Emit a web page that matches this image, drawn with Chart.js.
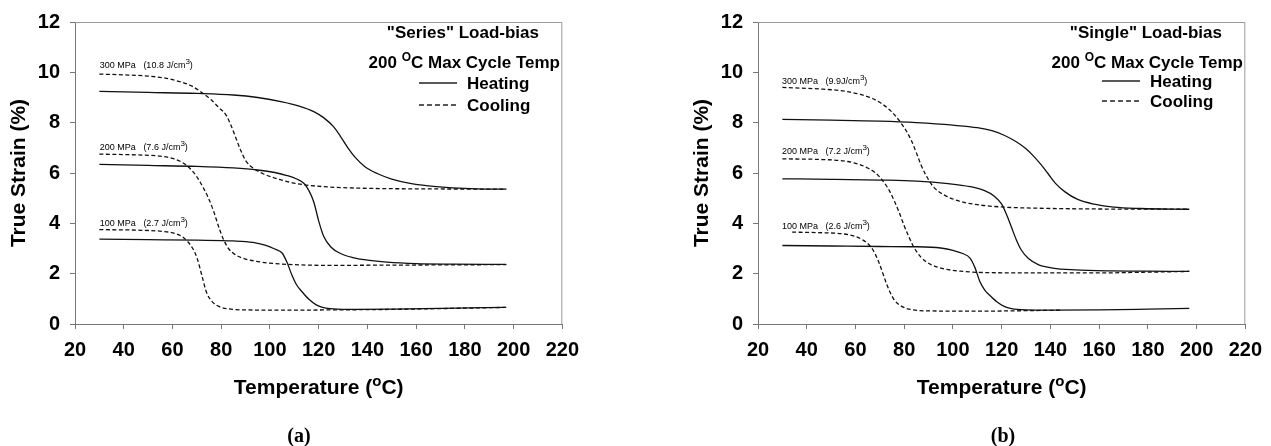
<!DOCTYPE html>
<html>
<head>
<meta charset="utf-8">
<script src="https://cdn.jsdelivr.net/npm/chart.js@4.4.1/dist/chart.umd.min.js"></script>
<style>
  body { margin: 0; background: #fff; }
  canvas { position: absolute; top: 0; }
  #chartA { left: 0; }
  #chartB { left: 683px; }
</style>
</head>
<body>
<canvas id="chartA" width="588" height="446"></canvas>
<canvas id="chartB" width="588" height="446"></canvas>
<script>
// tick labels
const xTicks = [20, 40, 60, 80, 100, 120, 140, 160, 180, 200, 220]
const yTicks = [0, 2, 4, 6, 8, 10, 12]

// (a) "Series" load-bias
const a300HeatT = [30, 50, 70, 85, 95, 105, 112, 118, 122, 126, 129, 132, 135, 139, 144, 150, 157, 165, 175, 185, 197]
const a300HeatS = [9.24, 9.2, 9.16, 9.1, 9.0, 8.83, 8.66, 8.44, 8.2, 7.85, 7.45, 7.0, 6.62, 6.25, 5.98, 5.76, 5.6, 5.49, 5.41, 5.37, 5.36]
const a300CoolT = [30, 40, 50, 57, 63, 68, 72, 76, 79, 82, 84, 86, 88, 90, 93, 97, 102, 108, 115, 125, 140, 160, 197]
const a300CoolS = [9.93, 9.9, 9.85, 9.77, 9.63, 9.45, 9.2, 8.9, 8.6, 8.3, 7.9, 7.4, 6.9, 6.5, 6.2, 5.98, 5.8, 5.64, 5.52, 5.44, 5.39, 5.37, 5.36]
const a200HeatT = [30, 50, 70, 85, 95, 102, 107, 111, 114, 116, 118, 120, 122, 125, 129, 134, 140, 148, 160, 175, 197]
const a200HeatS = [6.34, 6.3, 6.26, 6.2, 6.12, 6.02, 5.9, 5.76, 5.58, 5.3, 4.85, 4.1, 3.5, 3.06, 2.8, 2.64, 2.54, 2.46, 2.4, 2.38, 2.37]
const a200CoolT = [30, 45, 55, 60, 64, 67, 70, 73, 75, 77, 79, 81, 83, 86, 90, 95, 102, 112, 125, 150, 175, 197]
const a200CoolS = [6.75, 6.72, 6.67, 6.58, 6.42, 6.2, 5.85, 5.35, 4.95, 4.45, 3.85, 3.35, 3.0, 2.74, 2.58, 2.48, 2.4, 2.35, 2.33, 2.34, 2.35, 2.36]
const a100HeatT = [30, 50, 70, 85, 93, 98, 102, 105, 107, 109, 111, 113, 116, 119, 122, 126, 135, 150, 170, 197]
const a100HeatS = [3.37, 3.35, 3.33, 3.3, 3.24, 3.13, 2.98, 2.82, 2.45, 1.95, 1.55, 1.3, 0.98, 0.76, 0.65, 0.6, 0.58, 0.59, 0.62, 0.66]
const a100CoolT = [30, 45, 56, 61, 64, 66, 68, 70, 72, 74, 76, 79, 83, 90, 105, 125, 150, 175, 197]
const a100CoolS = [3.75, 3.73, 3.68, 3.6, 3.47, 3.3, 3.05, 2.65, 1.95, 1.25, 0.92, 0.7, 0.6, 0.56, 0.55, 0.56, 0.58, 0.62, 0.66]

// (b) "Single" load-bias
const b300HeatT = [30, 50, 70, 85, 100, 110, 116, 121, 126, 130, 133, 136, 139, 142, 146, 151, 158, 166, 177, 197]
const b300HeatS = [8.13, 8.1, 8.06, 8.0, 7.9, 7.8, 7.68, 7.5, 7.24, 6.96, 6.68, 6.35, 5.98, 5.6, 5.25, 4.96, 4.76, 4.64, 4.59, 4.56]
const b300CoolT = [30, 45, 55, 62, 67, 71, 75, 78, 81, 83, 85, 87, 89, 92, 96, 102, 110, 120, 135, 160, 197]
const b300CoolS = [9.4, 9.34, 9.26, 9.12, 8.96, 8.74, 8.42, 8.08, 7.65, 7.28, 6.8, 6.3, 5.9, 5.45, 5.15, 4.9, 4.74, 4.65, 4.6, 4.57, 4.56]
const b200HeatT = [30, 50, 70, 85, 98, 107, 113, 117, 120, 122, 124, 126, 128, 131, 135, 141, 150, 165, 180, 197]
const b200HeatS = [5.77, 5.75, 5.72, 5.68, 5.58, 5.46, 5.3, 5.08, 4.76, 4.35, 3.85, 3.35, 2.95, 2.6, 2.36, 2.22, 2.15, 2.11, 2.1, 2.09]
const b200CoolT = [30, 45, 55, 61, 65, 68, 71, 74, 76, 78, 80, 82, 84, 87, 91, 96, 103, 115, 135, 160, 180, 197]
const b200CoolS = [6.56, 6.54, 6.48, 6.36, 6.2, 6.02, 5.72, 5.28, 4.88, 4.42, 3.9, 3.45, 3.05, 2.64, 2.36, 2.2, 2.1, 2.04, 2.03, 2.03, 2.06, 2.09]
const b100HeatT = [30, 50, 70, 85, 95, 100, 104, 107, 109, 111, 113, 115, 118, 121, 124, 130, 140, 160, 180, 197]
const b100HeatS = [3.12, 3.1, 3.08, 3.07, 3.02, 2.93, 2.8, 2.62, 2.25, 1.7, 1.36, 1.15, 0.88, 0.7, 0.61, 0.56, 0.55, 0.56, 0.59, 0.62]
const b100CoolT = [34, 45, 55, 60, 63, 66, 68, 70, 72, 74, 76, 79, 83, 90, 110, 130, 145]
const b100CoolS = [3.65, 3.63, 3.58, 3.48, 3.34, 3.1, 2.8, 2.35, 1.8, 1.3, 0.95, 0.7, 0.57, 0.52, 0.51, 0.53, 0.55]

// curve labels: [load, energy, x, y]
const aLabels = [['300 MPa', '(10.8 J/cm', 30.2, 10.3], ['200 MPa', '(7.6 J/cm', 30.2, 7.03], ['100 MPa', '(2.7 J/cm', 30.2, 4.03]]
const bLabels = [['300 MPa', '(9.9J/cm', 29.8, 9.67], ['200 MPa', '(7.2 J/cm', 29.8, 6.87], ['100 MPa', '(2.6 J/cm', 29.8, 3.91]]

const SANS = "'Liberation Sans', Arial, sans-serif"
const SERIF = "'Liberation Serif', 'Times New Roman', serif"

function line(T, S, dashed) {
  return {
    data: T.map((t, i) => ({ x: t, y: S[i] })),
    borderColor: '#111',
    borderWidth: 1.3,
    borderDash: dashed ? [4, 2.5] : [],
    pointRadius: 0,
    cubicInterpolationMode: 'monotone',
    fill: false
  }
}

// draws text pieces one after another, some raised as superscripts
function rich(ctx, parts, x, y, align) {
  let w = 0
  parts.forEach(p => { ctx.font = p.font; w += ctx.measureText(p.t).width })
  let cx = align === 'right' ? x - w : align === 'center' ? x - w / 2 : x
  ctx.textAlign = 'left'
  ctx.textBaseline = 'alphabetic'
  parts.forEach(p => {
    ctx.font = p.font
    ctx.fillText(p.t, cx, y - (p.dy || 0))
    cx += ctx.measureText(p.t).width
  })
}

const textPlugin = {
  id: 'texts',
  afterDraw(chart, args, o) {
    const ctx = chart.ctx
    const a = chart.chartArea
    const xs = chart.scales.x, ys = chart.scales.y
    ctx.save()
    ctx.fillStyle = '#000'
    // frame top and right
    ctx.strokeStyle = '#999'
    ctx.lineWidth = 1
    ctx.beginPath()
    ctx.moveTo(a.left, a.top + 0.5)
    ctx.lineTo(a.right - 0.5, a.top + 0.5)
    ctx.lineTo(a.right - 0.5, a.bottom)
    ctx.stroke()

    // curve labels
    o.labels.forEach(l => {
      const px = xs.getPixelForValue(l[2]), py = ys.getPixelForValue(l[3]) + 3
      rich(ctx, [
        { t: l[0] + '   ' + l[1], font: '9px ' + SANS },
        { t: '3', font: '8px ' + SANS, dy: 4 },
        { t: ')', font: '9px ' + SANS }
      ], px, py, 'left')
    })

    // legend block
    const lx = a.left
    rich(ctx, [{ t: o.title, font: 'bold 17px ' + SANS }], lx + 464, 38, 'right')
    rich(ctx, [
      { t: '200 ', font: 'bold 17px ' + SANS },
      { t: 'O', font: 'bold 12px ' + SANS, dy: 7 },
      { t: 'C Max Cycle Temp', font: 'bold 17px ' + SANS }
    ], lx + 485, 68, 'right')
    ctx.strokeStyle = '#222'
    ctx.lineWidth = 1.3
    ctx.beginPath()
    ctx.moveTo(lx + 344, o.legY[0]); ctx.lineTo(lx + 382, o.legY[0])
    ctx.stroke()
    ctx.setLineDash([5, 3])
    ctx.beginPath()
    ctx.moveTo(lx + 344, o.legY[1]); ctx.lineTo(lx + 382, o.legY[1])
    ctx.stroke()
    ctx.setLineDash([])
    rich(ctx, [{ t: 'Heating', font: 'bold 17px ' + SANS }], lx + 392, o.legY[0] + 6, 'left')
    rich(ctx, [{ t: 'Cooling', font: 'bold 17px ' + SANS }], lx + 392, o.legY[1] + 6, 'left')

    // axis titles
    ctx.save()
    ctx.translate(a.left - 50, (a.top + a.bottom) / 2)
    ctx.rotate(-Math.PI / 2)
    rich(ctx, [{ t: 'True Strain (%)', font: 'bold 21px ' + SANS }], 0, 0, 'center')
    ctx.restore()
    rich(ctx, [
      { t: 'Temperature (', font: 'bold 21px ' + SANS },
      { t: 'o', font: 'bold 15px ' + SANS, dy: 8 },
      { t: 'C)', font: 'bold 21px ' + SANS }
    ], (a.left + a.right) / 2, 394, 'center')

    // caption
    rich(ctx, [{ t: o.caption, font: 'bold 20px ' + SERIF }], o.capX, 442, 'center')
    ctx.restore()
  }
}

function makeChart(id, sets, opts) {
  const ctx = document.getElementById(id).getContext('2d')
  return new Chart(ctx, {
    type: 'line',
    data: { datasets: sets },
    plugins: [textPlugin],
    options: {
      responsive: false,
      animation: false,
      layout: { padding: { left: 0, top: 20, right: 25, bottom: 0 } },
      plugins: {
        legend: { display: false },
        tooltip: { enabled: false },
        texts: opts
      },
      scales: {
        x: {
          type: 'linear',
          min: xTicks[0], max: xTicks[xTicks.length - 1],
          afterBuildTicks: s => { s.ticks = xTicks.map(v => ({ value: v })) },
          afterFit: s => { s.height = 122 },
          grid: { drawOnChartArea: false, tickLength: 5, color: '#777' },
          border: { color: '#777', width: 1 },
          ticks: { color: '#000', padding: 9, maxRotation: 0, autoSkip: false,
            font: { family: SANS, size: 20, weight: 'bold' } }
        },
        y: {
          min: yTicks[0], max: yTicks[yTicks.length - 1],
          afterBuildTicks: s => { s.ticks = yTicks.map(v => ({ value: v })) },
          afterFit: s => { s.width = 75 },
          grid: { drawOnChartArea: false, tickLength: 5, color: '#777' },
          border: { color: '#777', width: 1 },
          ticks: { color: '#000', padding: 10,
            font: { family: SANS, size: 20, weight: 'bold' } }
        }
      }
    }
  })
}

makeChart('chartA', [
  line(a300HeatT, a300HeatS, false), line(a300CoolT, a300CoolS, true),
  line(a200HeatT, a200HeatS, false), line(a200CoolT, a200CoolS, true),
  line(a100HeatT, a100HeatS, false), line(a100CoolT, a100CoolS, true)
], { labels: aLabels, title: '"Series" Load-bias', legY: [83, 105], caption: '(a)', capX: 299 })

makeChart('chartB', [
  line(b300HeatT, b300HeatS, false), line(b300CoolT, b300CoolS, true),
  line(b200HeatT, b200HeatS, false), line(b200CoolT, b200CoolS, true),
  line(b100HeatT, b100HeatS, false), line(b100CoolT, b100CoolS, true)
], { labels: bLabels, title: '"Single" Load-bias', legY: [81, 101], caption: '(b)', capX: 320 })
</script>
</body>
</html>
